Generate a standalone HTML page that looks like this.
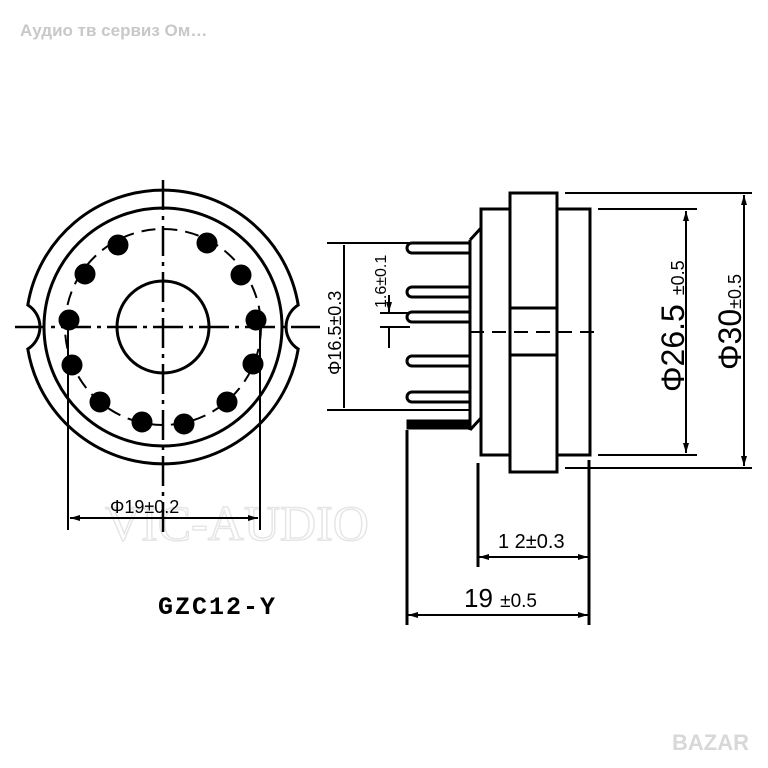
<!DOCTYPE html>
<html><head><meta charset="utf-8"><style>
html,body{margin:0;padding:0;background:#fff;}
svg{display:block}
</style></head><body>
<svg width="768" height="768" viewBox="0 0 768 768" xmlns="http://www.w3.org/2000/svg" font-family="Liberation Sans, sans-serif">
<defs>
<marker id="a" viewBox="0 0 10 6" refX="10" refY="3" markerWidth="14" markerHeight="6" markerUnits="userSpaceOnUse" orient="auto-start-reverse"><path d="M0,0 L10,3 L0,6 Z" fill="#000"/></marker>
</defs>
<text x="20" y="36" font-size="17" fill="#c8c8c8" font-weight="bold">Аудио тв сервиз Ом…</text>
<text x="105" y="540" font-size="50" fill="none" stroke="#e6e6e6" stroke-width="1.5" font-family="Liberation Serif, serif">VIC-AUDIO</text>
<g stroke="#000" stroke-width="3" fill="none">
<path d="M27.8,305 A137,137 0 0 1 298.2,305 A26,26 0 0 0 298.2,349 A137,137 0 0 1 27.8,349 A26,26 0 0 0 27.8,305 Z"/>
<circle cx="163" cy="327" r="119"/>
<circle cx="163" cy="327" r="46"/>
<circle cx="163" cy="327" r="98" stroke-width="2" stroke-dasharray="14 8"/>
</g>
<g stroke="#000" stroke-width="2.5" stroke-dasharray="30 6 4 6">
<line x1="163" y1="180" x2="163" y2="535"/>
<line x1="15" y1="327" x2="320" y2="327"/>
</g>
<g fill="#000" stroke="#000">
<circle cx="118" cy="245" r="10"/><circle cx="207" cy="243" r="10"/>
<circle cx="85" cy="274" r="10"/><circle cx="241" cy="275" r="10"/>
<circle cx="69" cy="320" r="10"/><circle cx="256" cy="320" r="10"/>
<circle cx="72" cy="365" r="10"/><circle cx="253" cy="364" r="10"/>
<circle cx="100" cy="402" r="10"/><circle cx="227" cy="402" r="10"/>
<circle cx="142" cy="422" r="10"/><circle cx="184" cy="424" r="10"/>
</g>
<g stroke="#000" stroke-width="2">
<line x1="68" y1="330" x2="68" y2="530"/>
<line x1="260" y1="330" x2="260" y2="530"/>
<line x1="70" y1="518" x2="258" y2="518" marker-start="url(#a)" marker-end="url(#a)"/>
</g>
<text x="110" y="513" font-size="18">Φ19±0.2</text>
<text x="158" y="614" font-size="25" font-weight="bold" font-family="Liberation Mono, monospace" letter-spacing="2">GZC12-Y</text>

<g stroke="#000" stroke-width="3" fill="none">
<rect x="481" y="209" width="109" height="246"/>
<rect x="510" y="193" width="47" height="279" fill="#fff"/>
<line x1="510" y1="308" x2="557" y2="308"/>
<line x1="510" y1="355" x2="557" y2="355"/>
</g>
<g stroke="#000" stroke-width="3" fill="#fff">
<path d="M470,243 H412 a5,5 0 0 0 0,10 H470 Z"/>
<path d="M470,287 H412 a5,5 0 0 0 0,10 H470 Z"/>
<path d="M470,312 H412 a5,5 0 0 0 0,10 H470 Z"/>
<path d="M470,356 H412 a5,5 0 0 0 0,10 H470 Z"/>
<path d="M470,392 H412 a5,5 0 0 0 0,10 H470 Z"/>
<path d="M470,421 H408 V428 H470 Z" fill="#000"/>
<line x1="470" y1="240" x2="481" y2="228"/>
<line x1="470" y1="430" x2="481" y2="418"/>
<line x1="470" y1="240" x2="470" y2="430"/>
</g>
<line x1="470" y1="332" x2="600" y2="332" stroke="#000" stroke-width="2" stroke-dasharray="14 8"/>
<g stroke="#000" stroke-width="2">
<line x1="327" y1="243" x2="470" y2="243"/>
<line x1="327" y1="410" x2="470" y2="410"/>
<line x1="344" y1="245" x2="344" y2="408"/>
<line x1="380" y1="313" x2="410" y2="313"/>
<line x1="380" y1="327" x2="410" y2="327"/>
<line x1="389" y1="295" x2="389" y2="312" marker-end="url(#a)"/>
<line x1="389" y1="328" x2="389" y2="348"/>
<line x1="598" y1="209" x2="697" y2="209"/>
<line x1="598" y1="455" x2="697" y2="455"/>
<line x1="686" y1="211" x2="686" y2="453" marker-start="url(#a)" marker-end="url(#a)"/>
<line x1="565" y1="193" x2="752" y2="193"/>
<line x1="565" y1="468" x2="752" y2="468"/>
<line x1="744" y1="195" x2="744" y2="466" marker-start="url(#a)" marker-end="url(#a)"/>
<line x1="407" y1="430" x2="407" y2="625" stroke-width="3"/>
<line x1="478" y1="463" x2="478" y2="567" stroke-width="3"/>
<line x1="589" y1="460" x2="589" y2="625" stroke-width="3"/>
<line x1="479" y1="557" x2="588" y2="557" marker-start="url(#a)" marker-end="url(#a)"/>
<line x1="408" y1="615" x2="588" y2="615" marker-start="url(#a)" marker-end="url(#a)"/>
</g>
<text transform="translate(341,375) rotate(-90)" font-size="18">Φ16.5±0.3</text>
<text transform="translate(386,308) rotate(-90)" font-size="16">1.6±0.1</text>
<text transform="translate(684,392) rotate(-90)" font-size="32">Φ26.5 <tspan font-size="18">±0.5</tspan></text>
<text transform="translate(741,370) rotate(-90)" font-size="32">Φ30<tspan font-size="18">±0.5</tspan></text>
<text x="498" y="548" font-size="20">1 2±0.3</text>
<text x="464" y="607" font-size="26">19 <tspan font-size="19">±0.5</tspan></text>
<text x="672" y="750" font-size="22" font-weight="bold" fill="#d8d8d8">BAZAR</text>
</svg>
</body></html>
